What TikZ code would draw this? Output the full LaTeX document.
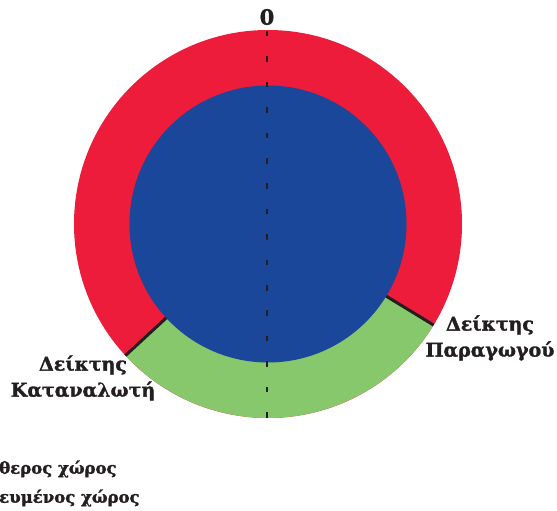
\documentclass[tikz,border=0pt]{standalone}
\usepackage{fontspec}
\usetikzlibrary{calc}
\setmainfont{DejaVu Serif}[BoldFeatures={FakeBold=1.6}]
\definecolor{ringred}{HTML}{EC1C3A}
\definecolor{coreblue}{HTML}{1A4799}
\definecolor{freegreen}{HTML}{88C86C}
\definecolor{inkdark}{HTML}{231F20}
\begin{document}
\begin{tikzpicture}[x=1pt,y=-1pt,
  lbl/.style={font=\bfseries\fontsize{19}{26}\selectfont, text=inkdark, align=center, inner sep=0pt},
  legendtxt/.style={font=\bfseries\fontsize{16.5}{18}\selectfont, text=inkdark, anchor=west, inner sep=0pt},
  divider/.style={draw=inkdark, line width=3pt},
  axis/.style={draw=inkdark, line width=2pt, dash pattern=on 5.5pt off 19.9pt}]
\useasboundingbox (0,0) rectangle (557,511);
\coordinate (c) at (268,224);
% outer ring: producer-consumer band
\fill[ringred] (c) circle[radius=194];
\fill[freegreen] (c) -- ($(c)+(31.4:194)$) arc[start angle=31.4, end angle=137.3, radius=194] -- cycle;
% inner core
\fill[coreblue] (c) circle[radius=138.5];
% sector dividers
\coordinate (pin) at ($(c)+(31.4:138.5)$);
\coordinate (pout) at ($(c)+(31.4:194)$);
\coordinate (cin) at ($(c)+(137.3:138.5)$);
\coordinate (cout) at ($(c)+(137.3:194)$);
\draw[divider] (pin) -- (pout);
\draw[divider] (cin) -- (cout);
% vertical reference axis
\coordinate (atop) at (267,31);
\coordinate (abot) at (267,419);
\draw[axis] (atop) -- (abot);
% labels
\node[lbl, font=\bfseries\fontsize{21}{26}\selectfont] (zero) at (267,17) {0};
\node[lbl] (prod) at (490,338) {Δείκτης\\Παραγωγού};
\node[lbl] (cons) at (83,378) {Δείκτης\\Καταναλωτή};
\node[legendtxt] (free) at (-1,469) {θερος χώρος};
\node[legendtxt] (busy) at (-1,498) {ευμένος χώρος};
\end{tikzpicture}
\end{document}
